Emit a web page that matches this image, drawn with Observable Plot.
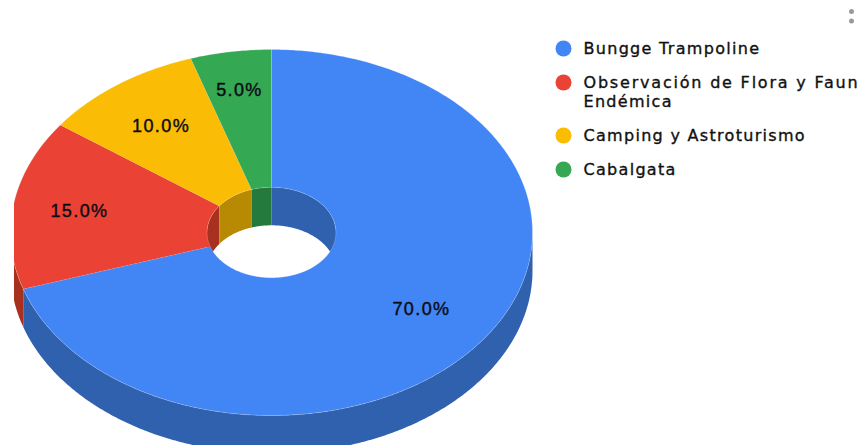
<!DOCTYPE html>
<html><head><meta charset="utf-8">
<script src="https://cdn.jsdelivr.net/npm/d3@7"></script>
<script src="https://cdn.jsdelivr.net/npm/@observablehq/plot@0.6"></script>
<style>html,body{margin:0;padding:0;background:#fff;overflow:hidden}svg{display:block}</style>
</head><body><div id="chart"></div>
<script>
const categories = ["Bungge Trampoline", "Observación de Flora y Fauna Endémica", "Camping y Astroturismo", "Cabalgata"];
const legendLines = [["Bungge Trampoline"], ["Observación de Flora y Faun", "Endémica"], ["Camping y Astroturismo"], ["Cabalgata"]];
const shares = [70, 15, 10, 5];
const topColors = ["#4285F4", "#EA4335", "#FBBC05", "#34A853"];
const sideColors = ["#3061AE", "#A8301F", "#B88A04", "#24793C"];

// Layout of the drawn disc, in pixels of the identity scales below
const W = 861, H = 445;
const disc = {cx: 271, cy: 232, rx: 261, ry: 183, hole: 0.247, depth: 38};
const labelRadius = [0.71, 0.745, 0.72, 0.785];

const arcs = d3.pie().sort(null).value(d => d)(shares);
const P = (a, k, d = 0) => ({x: disc.cx + k * disc.rx * Math.sin(a), y: disc.cy - k * disc.ry * Math.cos(a) + d});
const arcPts = (a0, a1, k, d = 0) => {
  const n = Math.max(2, Math.ceil(Math.abs(a1 - a0) / 0.01));
  return d3.range(n + 1).map(i => P(a0 + (a1 - a0) * i / n, k, d));
};
const poly = (pts, i) => pts.map(p => ({...p, i}));
const TAU = 2 * Math.PI;

const outerWall = [], innerWall = [], topFace = [];
arcs.forEach((s, i) => {
  const a0 = Math.max(s.startAngle, Math.PI / 2), a1 = Math.min(s.endAngle, 3 * Math.PI / 2);
  if (a1 > a0) outerWall.push(...poly([...arcPts(a0, a1, 1), ...arcPts(a1, a0, 1, disc.depth)], i));
  [[s.startAngle, s.endAngle], [s.startAngle + TAU, s.endAngle + TAU]].forEach(([u, v], j) => {
    const b0 = Math.max(u, 3 * Math.PI / 2), b1 = Math.min(v, 5 * Math.PI / 2);
    if (b1 > b0) innerWall.push(...poly([...arcPts(b0, b1, disc.hole), ...arcPts(b1, b0, disc.hole, disc.depth)], i + 10 * j));
  });
  topFace.push(...poly([...arcPts(s.startAngle, s.endAngle, 1), ...arcPts(s.endAngle, s.startAngle, disc.hole)], i));
});
const holeShape = poly(arcPts(0, TAU, disc.hole), 0);

const labels = arcs.map((s, i) => ({...P((s.startAngle + s.endAngle) / 2, labelRadius[i]), t: d3.format(".1f")(shares[i]) + "%"}));

// Legend rows: stacked from the wrapped line counts
const legendTop = 48, lineGap = 19, rowGap = 34, legendX = 563, legendTextX = 583;
let yy = legendTop;
const legendDots = [], legendText = [];
legendLines.forEach((ls, i) => {
  legendDots.push({x: legendX, y: yy, i});
  ls.forEach((t, j) => legendText.push({x: legendTextX, y: yy + j * lineGap, t}));
  yy += rowGap + (ls.length - 1) * lineGap;
});

const shapeOpts = (colors, extra = {}) => ({x: "x", y: "y", z: "i", fill: d => colors[d.i % 10], stroke: "none", clip: "frame", ...extra});

const chart = Plot.plot({
  width: W, height: H,
  marginLeft: 14, marginRight: 0, marginTop: 0, marginBottom: 0,
  x: {type: "linear", domain: [14, W], range: [14, W], axis: null},
  y: {type: "linear", domain: [0, H], range: [0, H], axis: null},
  color: {type: "identity"},
  style: {background: "#fff"},
  marks: [
    Plot.line(outerWall, shapeOpts(sideColors)),
    Plot.line(holeShape, shapeOpts(["#fff"])),
    Plot.line(innerWall, shapeOpts(sideColors)),
    Plot.line(topFace, shapeOpts(topColors, {stroke: "#fff", strokeOpacity: 0.25, strokeWidth: 0.8})),
    Plot.text(labels, {x: "x", y: "y", text: "t", fill: "#0b0b14", stroke: "#0b0b14", strokeWidth: 0.4, fontSize: 18, fontFamily: "Liberation Sans"}),
    Plot.dot(legendDots, {x: "x", y: "y", r: 8, fill: d => topColors[d.i], stroke: "none"}),
    Plot.text(legendText, {x: "x", y: "y", text: "t", textAnchor: "start", fill: "#111", stroke: "#111", strokeWidth: 0.35, fontSize: 16, fontFamily: "DejaVu Sans"}),
    Plot.dot([{x: 851, y: 11}, {x: 851, y: 20.5}], {x: "x", y: "y", r: 2.5, fill: "#9a9a9a", stroke: "none"})
  ]
});
// Letter spacing of the reference's wide lettering (Plot has no option for it)
d3.select(chart).selectAll("text").each(function () {
  const t = this.textContent;
  if (t.endsWith("%")) this.style.letterSpacing = "1.4px";
  else if (t.length > 24) this.style.letterSpacing = "1.8px";
  else if (t.length) this.style.letterSpacing = "1.3px";
});
document.getElementById("chart").append(chart);
</script></body></html>
